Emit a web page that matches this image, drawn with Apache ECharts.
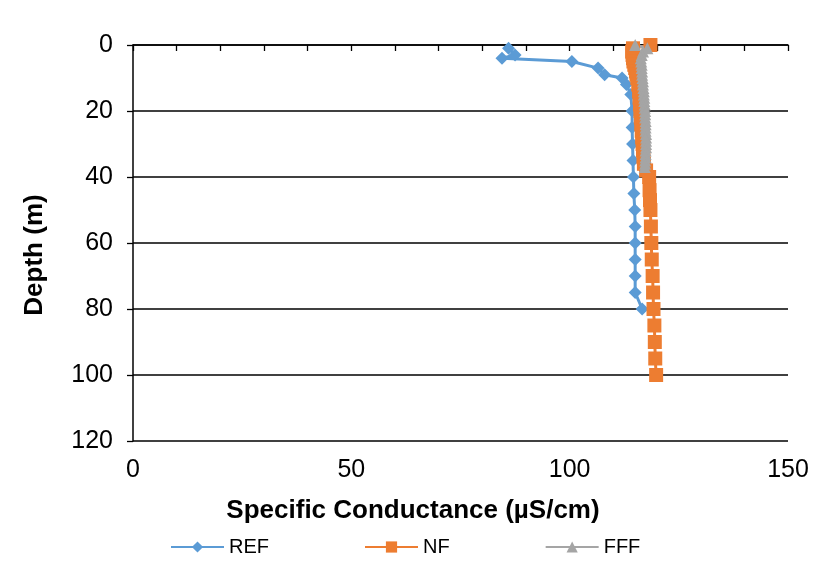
<!DOCTYPE html>
<html><head><meta charset="utf-8">
<script src="https://cdn.jsdelivr.net/npm/echarts@6/dist/echarts.min.js"></script>
<style>html,body{margin:0;padding:0;background:#fff}#c{width:824px;height:563px}</style>
</head><body><div id="c"></div>
<script>
const refDepth = [1, 3, 4, 5, 7, 9, 10, 12, 15, 20, 25, 30, 35, 40, 45, 50, 55, 60, 65, 70, 75, 80];
const refCond  = [86, 87.5, 84.5, 100.5, 106.5, 108, 112, 113, 114, 114.3, 114.3, 114.4, 114.5, 114.6, 114.7, 114.9, 115, 115, 115, 115, 115, 116.6];
const nfDepth = [0, 1, 2, 3, 4, 5, 6, 7, 8, 9, 10, 12, 14, 16, 18, 20, 22, 24, 26, 28, 30, 32, 34, 36, 38, 40, 44, 47, 50, 55, 60, 65, 70, 75, 80, 85, 90, 95, 100];
const nfCond  = [118.5, 114.5, 114.3, 114.4, 114.5, 114.6, 114.8, 115, 115.2, 115.3, 115.5, 115.7, 115.9, 116, 116.1, 116.2, 116.3, 116.4, 116.5, 116.6, 116.7, 116.8, 116.9, 117, 117.5, 118.2, 118.3, 118.4, 118.5, 118.6, 118.7, 118.8, 119, 119.1, 119.2, 119.4, 119.5, 119.6, 119.8];
const fffDepth = [0, 1, 2, 3, 4, 5, 6, 7, 8, 9, 10, 11, 12, 13, 14, 15, 16, 17, 18, 19, 20, 21, 22, 23, 24, 25, 26, 27, 28, 29, 30, 31, 32, 33, 34, 35, 36, 37];
const fffCond  = [115, 117.8, 116.8, 116.5, 116.3, 116.4, 116.5, 116.5, 116.6, 116.6, 116.7, 116.8, 116.8, 116.9, 117, 117, 117.1, 117.1, 117.2, 117.2, 117.3, 117.3, 117.3, 117.4, 117.4, 117.4, 117.4, 117.5, 117.5, 117.5, 117.5, 117.5, 117.4, 117.4, 117.4, 117.3, 117.3, 117.2];
const xTitle = 'Specific Conductance (µS/cm)';
const yTitle = 'Depth (m)';
const names = ['REF', 'NF', 'FFF'];
const colors = ['#5B9BD5', '#ED7D31', '#A5A5A5'];

const pairs = (xs, ys) => xs.map((v, i) => [v, ys[i]]);
const chart = echarts.init(document.getElementById('c'));
const font = 'Liberation Sans, Arial, sans-serif';
chart.setOption({
  animation: false,
  textStyle: { fontFamily: font },
  grid: { left: 133, right: 36, top: 45, bottom: 122, containLabel: false },
  xAxis: {
    type: 'value', min: 0, max: 150, interval: 10,
    name: xTitle, nameLocation: 'middle', nameGap: 57,
    nameTextStyle: { fontSize: 26, fontWeight: 'bold', color: '#000', fontFamily: font, padding: [0, 95, 0, 0] },
    axisLine: { lineStyle: { color: '#000', width: 1.5 } },
    axisTick: { show: true, length: 6, lineStyle: { color: '#000', width: 1.3 } },
    axisLabel: { fontSize: 25, color: '#000', margin: 17, fontFamily: font,
      formatter: v => (v % 50 === 0 ? String(v) : '') },
    splitLine: { show: false }
  },
  yAxis: {
    type: 'value', min: 0, max: 120, interval: 20, inverse: true,
    name: yTitle, nameLocation: 'middle', nameGap: 85, nameRotate: 90,
    nameTextStyle: { fontSize: 26, fontWeight: 'bold', color: '#000', fontFamily: font, padding: [0, 24, 0, 0] },
    axisLine: { show: true, lineStyle: { color: '#000', width: 1.5 } },
    axisTick: { show: true, length: 6, lineStyle: { color: '#000', width: 1.3 } },
    axisLabel: { fontSize: 25, color: '#000', margin: 20, fontFamily: font },
    splitLine: { show: true, lineStyle: { color: '#000', width: 1.5 } }
  },
  legend: {
    top: 532, left: 165, itemGap: 95, itemWidth: 53, itemHeight: 14,
    textStyle: { fontSize: 20, color: '#000', fontFamily: font },
    data: names
  },
  series: [
    { name: names[0], type: 'line', data: pairs(refCond, refDepth), color: colors[0],
      symbol: 'diamond', symbolSize: 13, lineStyle: { width: 3 }, itemStyle: { color: colors[0] } },
    { name: names[1], type: 'line', data: pairs(nfCond, nfDepth), color: colors[1],
      symbol: 'rect', symbolSize: 14, lineStyle: { width: 3 }, itemStyle: { color: colors[1] } },
    { name: names[2], type: 'line', data: pairs(fffCond, fffDepth), color: colors[2],
      symbol: 'triangle', symbolSize: 12, lineStyle: { width: 3 }, itemStyle: { color: colors[2] } }
  ]
});
</script></body></html>
